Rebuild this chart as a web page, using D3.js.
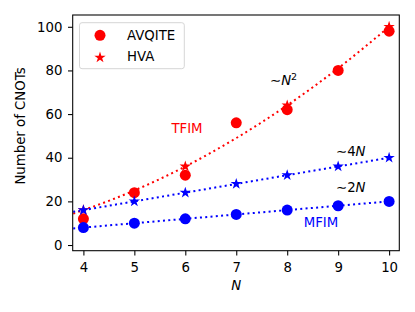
<!DOCTYPE html>
<html>
<head>
<meta charset="utf-8">
<script src="https://cdn.jsdelivr.net/npm/d3@7"></script>
<style>
  body { margin: 0; background: #fff; }
  text { font-family: "DejaVu Sans", sans-serif; }
</style>
</head>
<body>
<div id="chart"></div>
<script>
// data
const nAll = [4, 5, 6, 7, 8, 9, 10];
const nEven = [4, 6, 8, 10];
const tfimAvqite = [12, 24, 32, 56, 62, 80, 98];
const tfimHva = [16, 36, 64, 100];
const mfimAvqite = [8, 10, 12, 14, 16, 18, 20];
const mfimHva = [16, 20, 24, 28, 32, 36, 40];
// dotted guide lines (~N^2, ~4N, ~2N)
const fitN = [3.8, 4, 5, 6, 7, 8, 9, 10];
const fitN2 = [14.4, 16, 25, 36, 49, 64, 81, 100];
const fit4N = [15.2, 16, 20, 24, 28, 32, 36, 40];
const fit2N = [7.6, 8, 10, 12, 14, 16, 18, 20];
const xTicks = [4, 5, 6, 7, 8, 9, 10];
const yTicks = [0, 20, 40, 60, 80, 100];

const width = 415, height = 312;
const margin = { left: 72.7, right: 15.7, top: 15, bottom: 61.3 };
const red = "#ff0000", blue = "#0000ff";
const fs = "13.3px";

const svg = d3.select("#chart").append("svg")
  .attr("width", width)
  .attr("height", height);

const x = d3.scaleLinear().domain([3.79, 10.2]).range([margin.left, width - margin.right]);
const y = d3.scaleLinear().domain([-2.6, 105.4]).range([height - margin.bottom, margin.top]);

svg.append("clipPath").attr("id", "clip")
  .append("rect")
  .attr("x", margin.left).attr("y", margin.top)
  .attr("width", width - margin.left - margin.right)
  .attr("height", height - margin.top - margin.bottom);

const plot = svg.append("g").attr("clip-path", "url(#clip)");

function dotted(xs, ys, color, curve) {
  const pts = xs.map((d, i) => [d, ys[i]]);
  plot.append("path")
    .attr("d", d3.line().x(d => x(d[0])).y(d => y(d[1])).curve(curve)(pts))
    .attr("fill", "none")
    .attr("stroke", color)
    .attr("stroke-width", 2)
    .attr("stroke-dasharray", "2,3.3");
}

function circles(xs, ys, color) {
  plot.selectAll(null)
    .data(xs.map((d, i) => [d, ys[i]]))
    .enter().append("circle")
    .attr("cx", d => x(d[0]))
    .attr("cy", d => y(d[1]))
    .attr("r", 5.5)
    .attr("fill", color);
}

const star = d3.symbol().type(d3.symbolStar).size(40);
function stars(xs, ys, color) {
  plot.selectAll(null)
    .data(xs.map((d, i) => [d, ys[i]]))
    .enter().append("path")
    .attr("d", star)
    .attr("transform", d => "translate(" + x(d[0]) + "," + y(d[1]) + ")")
    .attr("fill", color);
}

// TFIM
dotted(fitN, fitN2, red, d3.curveMonotoneX);
stars(nEven, tfimHva, red);
circles(nAll, tfimAvqite, red);
// MFIM
dotted(fitN, fit4N, blue, d3.curveLinear);
dotted(fitN, fit2N, blue, d3.curveLinear);
stars(nAll, mfimHva, blue);
circles(nAll, mfimAvqite, blue);

// axes
const xAxis = svg.append("g")
  .attr("transform", "translate(0," + (height - margin.bottom) + ")")
  .call(d3.axisBottom(x).tickValues(xTicks).tickFormat(d3.format("d"))
    .tickSize(4.7).tickPadding(7.5).tickSizeOuter(0));
const yAxis = svg.append("g")
  .attr("transform", "translate(" + margin.left + ",0)")
  .call(d3.axisLeft(y).tickValues(yTicks).tickFormat(d3.format("d"))
    .tickSize(4.7).tickPadding(5.5).tickSizeOuter(0));
[xAxis, yAxis].forEach(a => {
  a.selectAll("text").style("font-size", fs).attr("fill", "#000").style("font-family", "DejaVu Sans");
  a.selectAll("line").attr("stroke", "#000").attr("stroke-width", 1.07);
  a.select(".domain").remove();
});

svg.append("rect")
  .attr("x", margin.left).attr("y", margin.top)
  .attr("width", width - margin.left - margin.right)
  .attr("height", height - margin.top - margin.bottom)
  .attr("fill", "none").attr("stroke", "#000").attr("stroke-width", 1.07);

// axis labels
svg.append("text")
  .attr("x", x(7)).attr("y", 290)
  .attr("text-anchor", "middle")
  .style("font-size", fs).style("font-style", "italic")
  .text("N");
svg.append("text")
  .attr("transform", "translate(25,126) rotate(-90)")
  .attr("text-anchor", "middle")
  .style("font-size", fs)
  .text("Number of CNOTs");

// annotations
svg.append("text").attr("x", 187).attr("y", 133).attr("text-anchor", "middle")
  .attr("fill", red).style("font-size", fs).text("TFIM");
svg.append("text").attr("x", 321).attr("y", 227).attr("text-anchor", "middle")
  .attr("fill", blue).style("font-size", fs).text("MFIM");

const n2 = svg.append("text").attr("x", 270).attr("y", 85).style("font-size", fs);
n2.append("tspan").text("\u223C");
n2.append("tspan").style("font-style", "italic").text("N");
n2.append("tspan").attr("dy", -5.5).style("font-size", "9.5px").text("2");

const f4 = svg.append("text").attr("x", 336).attr("y", 155.7).style("font-size", fs);
f4.append("tspan").text("\u223C4");
f4.append("tspan").style("font-style", "italic").text("N");

const f2 = svg.append("text").attr("x", 336).attr("y", 191.7).style("font-size", fs);
f2.append("tspan").text("\u223C2");
f2.append("tspan").style("font-style", "italic").text("N");

// legend
const legend = svg.append("g");
legend.append("rect")
  .attr("x", 79.5).attr("y", 22.7).attr("width", 104.8).attr("height", 46)
  .attr("rx", 2.5)
  .attr("fill", "#fff").attr("fill-opacity", 0.8)
  .attr("stroke", "#d6d6d6").attr("stroke-width", 1);
legend.append("circle").attr("cx", 100).attr("cy", 35.3).attr("r", 5.5).attr("fill", red);
legend.append("path").attr("d", star).attr("transform", "translate(100,57.5)").attr("fill", red);
legend.append("text").attr("x", 127).attr("y", 39.5).style("font-size", fs).text("AVQITE");
legend.append("text").attr("x", 127).attr("y", 61.2).style("font-size", fs).text("HVA");
</script>
</body>
</html>
